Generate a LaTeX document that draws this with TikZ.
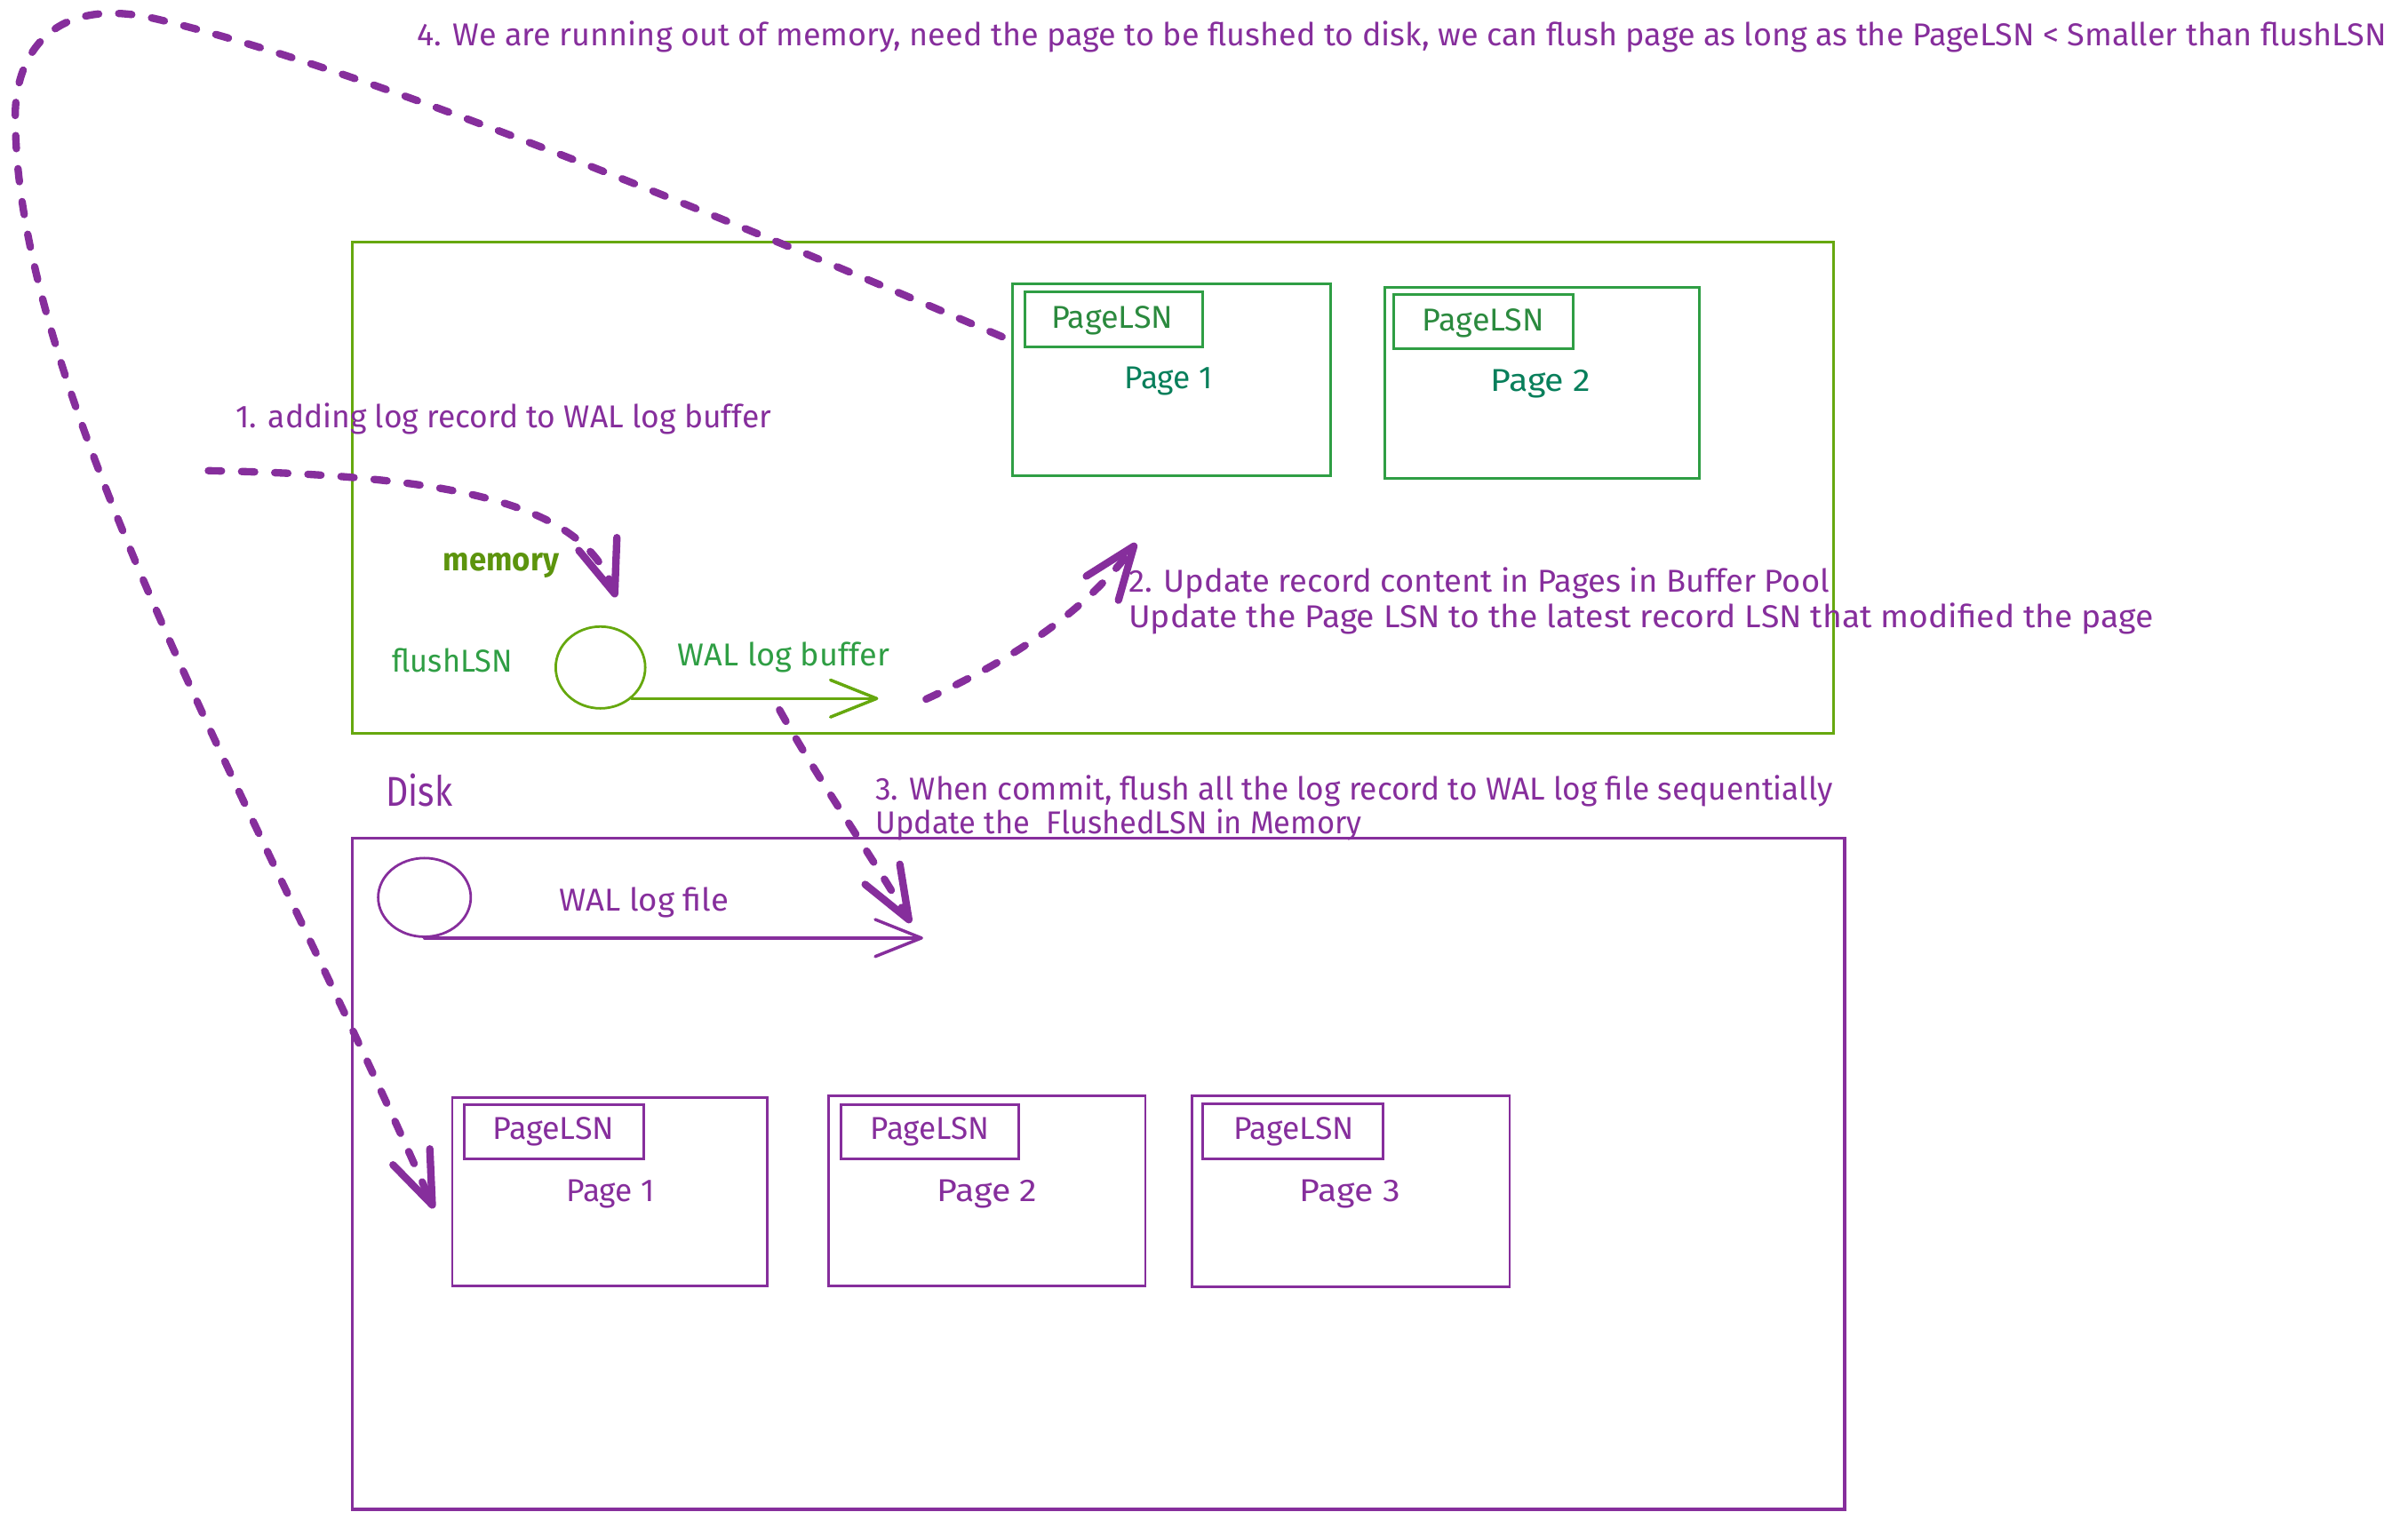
\documentclass[tikz,border=0pt]{standalone}
\usepackage{fontspec}
\setmainfont{Fira Sans}
\usetikzlibrary{arrows.meta,shapes.geometric,fit}
\definecolor{grape}{HTML}{862E9C}
\definecolor{lime8}{HTML}{66A80F}
\definecolor{lime9}{HTML}{5C940D}
\definecolor{green8}{HTML}{2F9E44}
\definecolor{green9}{HTML}{2B8A3E}
\definecolor{teal9}{HTML}{087F5B}
\newcommand\fitw[2]{\resizebox{#1}{\height}{#2}}
\begin{document}
\begin{tikzpicture}[x=1pt,y=-1pt,
  txt/.style={inner sep=0pt, font=\fontsize{20.5}{24}\selectfont},
  membox/.style={draw=lime8, line width=1.8pt, inner sep=0pt},
  diskbox/.style={draw=grape, line width=1.8pt, inner sep=0pt},
  mpage/.style={draw=green8, line width=1.7pt, inner sep=0pt},
  dpage/.style={draw=grape, line width=1.7pt, inner sep=0pt},
  logcirc/.style={ellipse, line width=1.6pt, inner sep=0pt},
  flow/.style={draw=grape, line width=4.8pt, line cap=round, dash pattern=on 8.5pt off 13pt,
    -{Straight Barb[length=34pt,width=26pt,round]}},
  logarrow/.style={line width=2pt, line cap=round, -{Straight Barb[length=30pt,width=24pt,round]}},
]
\useasboundingbox (0,0) rectangle (1560,990);

% ---------- memory ----------
\node[membox, fit={(228,157)(1188,475)}] (mem) {};
\node[mpage, fit={(656,184)(862,308)}] (mp1) {};
\node[mpage, fit={(664,189)(779,225)}] (mp1lsn) {};
\node[mpage, fit={(897,186)(1101,310)}] (mp2) {};
\node[mpage, fit={(903,191)(1019,226)}] (mp2lsn) {};
\node[txt, text=green9, anchor=base] (mp1l) at (720.5,212.5) {\fitw{79pt}{PageLSN}};
\node[txt, text=teal9, anchor=base] (mp1n) at (757,252) {\fitw{57pt}{Page 1}};
\node[txt, text=green9, anchor=base] (mp2l) at (961,214.5) {\fitw{79pt}{PageLSN}};
\node[txt, text=teal9, anchor=base] (mp2n) at (998,253.5) {\fitw{65pt}{Page 2}};

\node[txt, text=lime9, anchor=base west, font=\fontsize{21}{24}\selectfont\bfseries] (memlbl) at (287,370) {\fitw{75pt}{memory}};
\node[txt, text=green8, anchor=base west] (flsn) at (254,435.5) {\fitw{78pt}{flushLSN}};
\node[logcirc, draw=lime8, minimum width=58pt, minimum height=53pt] (buf) at (389,432.5) {};
\node[txt, text=green8, anchor=base west] (buflbl) at (439,431.5) {\fitw{137pt}{WAL log buffer}};
\coordinate (bufend) at (569,451);
\draw[lime8, logarrow] (buf.-45) -- (buf.-45 -| bufend);

% ---------- disk ----------
\node[txt, text=grape, anchor=base west, font=\fontsize{27}{30}\selectfont] (disklbl) at (250,522.5) {\fitw{43pt}{Disk}};
\node[diskbox, fit={(228,543)(1195,978)}] (disk) {};
\node[logcirc, draw=grape, minimum width=60pt, minimum height=51pt] (logf) at (275,581.5) {};
\node[txt, text=grape, anchor=base west] (logflbl) at (362,590.5) {\fitw{110pt}{WAL log file}};
\coordinate (logend) at (598,607);
\draw[grape, logarrow] (logf.south) -- (logf.south -| logend);

\node[dpage, fit={(293,711)(497,833)}] (dp1) {};
\node[dpage, fit={(301,716)(417,751)}] (dp1lsn) {};
\node[dpage, fit={(537,710)(742,833)}] (dp2) {};
\node[dpage, fit={(545,716)(660,751)}] (dp2lsn) {};
\node[dpage, fit={(772,710)(978,834)}] (dp3) {};
\node[dpage, fit={(779,715)(896,751)}] (dp3lsn) {};
\node[txt, text=grape, anchor=base] (dp1l) at (358.5,738.5) {\fitw{79pt}{PageLSN}};
\node[txt, text=grape, anchor=base] (dp1n) at (395.5,778.5) {\fitw{57pt}{Page 1}};
\node[txt, text=grape, anchor=base] (dp2l) at (602.5,738.5) {\fitw{77pt}{PageLSN}};
\node[txt, text=grape, anchor=base] (dp2n) at (639.5,778.5) {\fitw{65pt}{Page 2}};
\node[txt, text=grape, anchor=base] (dp3l) at (838,738.5) {\fitw{78pt}{PageLSN}};
\node[txt, text=grape, anchor=base] (dp3n) at (874.5,778.5) {\fitw{65pt}{Page 3}};

% ---------- step texts ----------
\node[txt, text=grape, anchor=base west] (t4) at (270,29.5) {\fitw{1276pt}{4. We are running out of memory, need the page to be flushed to disk, we can flush page as long as the PageLSN < Smaller than flushLSN}};
\node[txt, text=grape, anchor=base west] (t1) at (152.6,277) {\fitw{347pt}{1. adding log record to WAL log buffer}};
\node[txt, text=grape, anchor=base west] (t2a) at (731,383.5) {\fitw{454pt}{2. Update record content in Pages in Buffer Pool}};
\node[txt, text=grape, anchor=base west] (t2b) at (731,406.5) {\fitw{664pt}{Update the Page LSN to the latest record LSN that modified the page}};
\node[txt, text=grape, anchor=base west] (t3a) at (567,518.5) {\fitw{620pt}{3. When commit, flush all the log record to WAL log file sequentially}};
\node[txt, text=grape, anchor=base west] (t3b) at (567,540.5) {\fitw{315pt}{Update the\ \ FlushedLSN in Memory}};

% ---------- dashed flow arrows ----------
\coordinate (f1s) at (135,305);
\coordinate (f1e) at (399,387);
\draw[flow] (f1s) .. controls (290,308) and (378,325) .. (f1e);
\coordinate (f2s) at (600,453);
\coordinate (f2e) at (736,352);
\draw[flow] (f2s) .. controls (650,430) and (700,400) .. (f2e);
\coordinate (f3s) at (505,460);
\coordinate (f3e) at (590,598);
\draw[flow] (f3s) .. controls (530,505) and (565,555) .. (f3e);
\coordinate (f4e) at (281,783);
\draw[flow] ([xshift=-6pt]mp1.165) .. controls (420,120) and (220,40) .. (100,12)
  .. controls (30,-4) and (8,40) .. (10,80)
  .. controls (12,260) and (180,550) .. (f4e);
\end{tikzpicture}
\end{document}
